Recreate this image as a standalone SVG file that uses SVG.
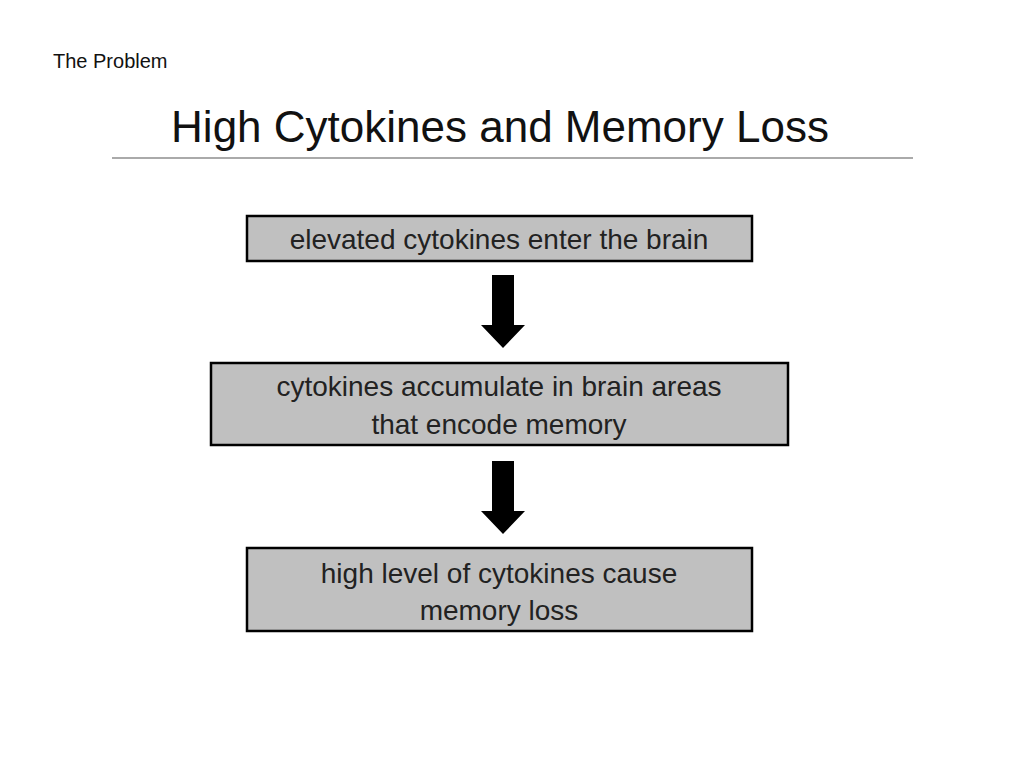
<svg xmlns="http://www.w3.org/2000/svg" width="1024" height="768" viewBox="0 0 1024 768">
<style>
.box{fill:#c0c0c0;stroke:#000;stroke-width:2.5}
.t{font-family:"Liberation Sans",Arial,sans-serif;font-size:28px;fill:#222;text-anchor:middle}
.arr{fill:#000}
</style>
<rect width="1024" height="768" fill="#fff"/>
<text x="53" y="68" font-family="Liberation Sans,Arial,sans-serif" font-size="20" fill="#111">The Problem</text>
<text x="500" y="142" font-family="Liberation Sans,Arial,sans-serif" font-size="44" fill="#111" text-anchor="middle">High Cytokines and Memory Loss</text>
<line x1="112" y1="158" x2="913" y2="158" stroke="#aaa" stroke-width="2"/>
<g id="n1"><rect class="box" x="247" y="216" width="505" height="45"/><text class="t" x="499" y="249">elevated cytokines enter the brain</text></g>
<g id="n2"><rect class="box" x="211" y="363" width="577" height="82"/><text class="t" x="499" y="396">cytokines accumulate in brain areas</text><text class="t" x="499" y="434">that encode memory</text></g>
<g id="n3"><rect class="box" x="247" y="548" width="505" height="83"/><text class="t" x="499" y="583">high level of cytokines cause</text><text class="t" x="499" y="620">memory loss</text></g>
<g id="connectors">
<polygon class="arr" points="492,275 514,275 514,325 525,325 503,348 481,325 492,325"/>
<polygon class="arr" points="492,461 514,461 514,511 525,511 503,534 481,511 492,511"/>
</g>
</svg>
